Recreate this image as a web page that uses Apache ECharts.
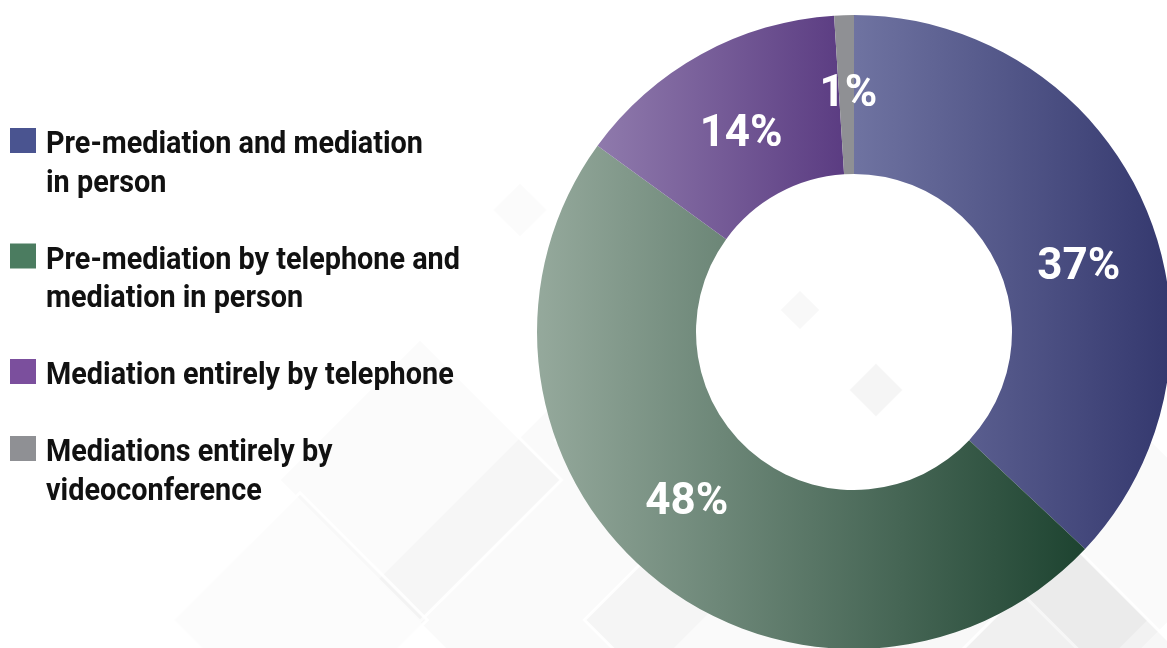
<!DOCTYPE html>
<html>
<head>
<meta charset="utf-8">
<script src="https://cdn.jsdelivr.net/npm/echarts@6/dist/echarts.min.js"></script>
<style>
html,body{margin:0;padding:0;background:#ffffff;}
#chart{width:1167px;height:648px;}
</style>
</head>
<body>
<div id="chart"></div>
<script>
// ---- data ----
const categories = [
  'Pre-mediation and mediation\nin person',
  'Pre-mediation by telephone and\nmediation in person',
  'Mediation entirely by telephone',
  'Mediations entirely by\nvideoconference'
];
const shares = [37, 48, 14, 1];

// ---- styles ----
const legendColors = ['#4a5490', '#4b7c60', '#7b4f9d', '#8f9094'];
const sliceGradients = [
  ['#6f73a1', '#34386e'],
  ['#95a99c', '#1d4330'],
  ['#8f7aac', '#5b3c82'],
  ['#8f9094', '#8f9094']
];
const labelNudge = [[4, 32], [-14, -14], [3, 14], [2, 3]];

const FONT = 'Roboto, "Liberation Sans", sans-serif';
const LEGEND_FONT = 'bold 32px ' + FONT;

// condense legend text horizontally so the first line spans the reference width
const ctx = document.createElement('canvas').getContext('2d');
ctx.font = LEGEND_FONT;
const refLineWidth = ctx.measureText(categories[0].split('\n')[0]).width;
const squeeze = 377 / refLineWidth;

const chart = echarts.init(document.getElementById('chart'), null, {renderer: 'canvas'});

// decorative faint diamonds in the background
const deco = [];
const diamonds = [
  [560, 580, 260, 0.035], [420, 480, 200, 0.03], [740, 620, 220, 0.04],
  [980, 620, 240, 0.05], [1110, 540, 200, 0.04], [876, 390, 40, 0.07],
  [300, 620, 180, 0.025], [1070, 648, 150, 0.06], [800, 310, 30, 0.05],
  [640, 440, 120, 0.03], [520, 210, 40, 0.03]
];
diamonds.forEach(function (d) {
  deco.push({
    type: 'rect', z: -10, silent: true,
    x: d[0], y: d[1], rotation: Math.PI / 4,
    shape: {x: -d[2] / 2, y: -d[2] / 2, width: d[2], height: d[2]},
    style: {fill: 'rgba(120,120,120,' + d[3] + ')', stroke: 'rgba(255,255,255,0.9)', lineWidth: 3}
  });
});

// legend built from the categories
const legendEls = [];
let lineCursor = 0;
const LH = 38.5, TOP = 142;
categories.forEach(function (name, i) {
  const nLines = name.split('\n').length;
  const cy = TOP + LH * lineCursor;
  legendEls.push({
    type: 'rect', silent: true,
    shape: {x: 10, y: cy - 14, width: 26, height: 25},
    style: {fill: legendColors[i]}
  });
  legendEls.push({
    type: 'text', silent: true,
    x: 46, y: cy - LH / 2 + 3,
    scaleX: squeeze,
    style: {
      text: name, fill: '#111111',
      font: LEGEND_FONT,
      lineHeight: LH, verticalAlign: 'top', align: 'left'
    }
  });
  lineCursor += nLines + 1;
});

const pieData = categories.map(function (name, i) {
  return {
    name: name,
    value: shares[i],
    itemStyle: {
      color: new echarts.graphic.LinearGradient(0, 0, 1, 0, [
        {offset: 0, color: sliceGradients[i][0]},
        {offset: 1, color: sliceGradients[i][1]}
      ])
    }
  };
});

chart.setOption({
  backgroundColor: '#ffffff',
  animation: false,
  graphic: deco.concat(legendEls),
  series: [{
    type: 'pie',
    center: [854, 332],
    radius: [158, 317],
    startAngle: 90,
    clockwise: true,
    avoidLabelOverlap: false,
    data: pieData,
    label: {
      show: true,
      position: 'inside',
      formatter: '{c}%',
      color: '#ffffff',
      fontFamily: FONT,
      fontWeight: 'bold',
      fontSize: 44
    },
    labelLine: {show: false},
    labelLayout: function (p) {
      const o = labelNudge[p.dataIndex];
      return {dx: o[0], dy: o[1]};
    },
    itemStyle: {borderWidth: 0}
  }]
});
</script>
</body>
</html>
